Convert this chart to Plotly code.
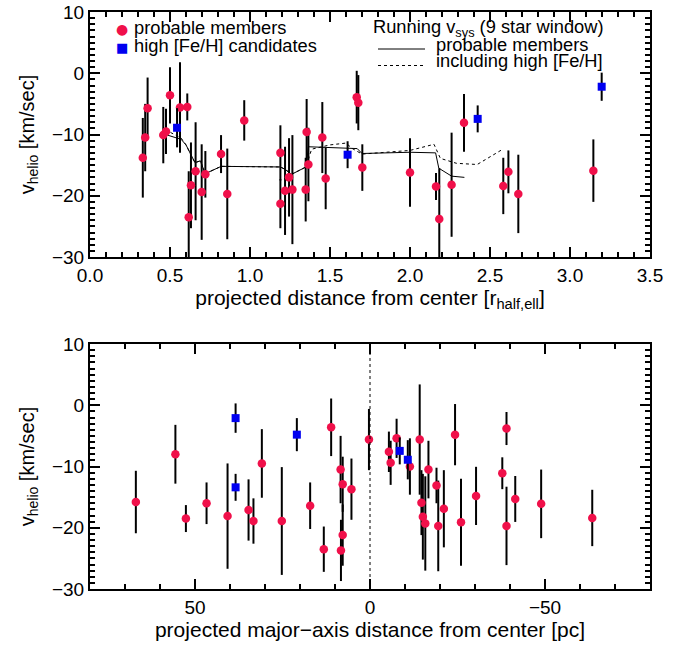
import plotly.graph_objects as go

# ---------------- data: top panel (projected distance, r_half,ell) ----------------
mem_r = [0.33, 0.345, 0.36, 0.458, 0.475, 0.50, 0.5625, 0.608, 0.617, 0.631, 0.66, 0.698,
         0.721, 0.819, 0.858, 0.964, 1.19, 1.19, 1.219, 1.244, 1.265, 1.348, 1.354, 1.365,
         1.452, 1.473, 1.667, 1.677, 1.702, 2.0, 2.1625, 2.183, 2.26, 2.3375, 2.583, 2.615,
         2.677, 3.146]
mem_v = [-13.8, -10.5, -5.7, -10.1, -9.5, -3.6, -5.6, -5.5, -23.5, -18.3, -16.0, -19.4,
         -16.5, -13.2, -19.7, -7.7, -13.0, -21.3, -19.2, -17.0, -19.0, -19.0, -9.6, -14.9,
         -10.5, -17.2, -3.9, -4.8, -15.4, -16.2, -18.5, -23.8, -18.2, -8.1, -18.4, -16.1,
         -19.7, -15.9]
mem_e = [6.5, 5.5, 5.0, 4.6, 3.7, 4.6, 7.4, 2.2, 7.5, 7.0, 8.0, 7.8,
         3.8, 3.1, 7.4, 3.3, 4.5, 4.0, 7.2, 6.4, 8.9, 5.2, 5.4, 6.0,
         5.8, 5.0, 4.3, 4.5, 3.8, 5.6, 2.2, 8.3, 8.5, 4.7, 4.6, 3.5,
         6.4, 5.1]

hi_r = [0.544, 1.61, 2.423, 3.198]
hi_v = [-8.9, -13.3, -7.45, -2.2]
hi_e = [3.2, 2.2, 2.2, 2.3]

run_mem_r = [0.46, 0.57, 0.60, 0.656, 0.69, 0.72, 0.82, 1.19, 1.22, 1.26, 1.35, 1.365,
             1.67, 1.70, 2.00, 2.16, 2.18, 2.26, 2.34]
run_mem_v = [-9.9, -10.8, -11.7, -14.6, -14.3, -16.4, -15.2, -15.3, -15.7, -16.5, -15.3, -12.0,
             -12.3, -13.1, -12.9, -13.0, -15.5, -16.8, -17.0]
run_all_r = [0.47, 0.57, 0.60, 0.656, 0.69, 0.72, 0.82, 1.19, 1.22, 1.26, 1.35, 1.385,
             1.50, 1.60, 1.64, 1.70, 2.00, 2.15, 2.19, 2.29, 2.42, 2.58]
run_all_v = [-9.2, -10.6, -11.7, -14.6, -14.3, -16.4, -15.2, -15.3, -15.7, -16.5, -15.3, -12.4,
             -11.7, -11.4, -12.3, -13.2, -12.6, -11.6, -13.9, -14.7, -14.9, -12.4]

# ---------------- data: bottom panel (major-axis distance, pc) ----------------
mem_d = [66.9, 55.6, 52.6, 46.7, 40.7, 34.7, 33.3, 30.9, 25.2, 17.1, 13.2, 11.1, 8.4, 7.8,
         7.8, 8.3, 5.3, 0.3, -5.4, -5.9, -7.6, -11.4, -14.2, -16.7, -14.7, -15.1, -15.8,
         -19.0, -19.5, -21.1, -24.3, -26.0, -30.3, -37.8, -39.0, -39.0, -41.5, -48.9, -63.5]
mem_vb = [-15.8, -8.0, -18.5, -16.0, -18.1, -17.1, -18.9, -9.5, -18.9, -16.4, -23.5, -3.6, -10.5, -12.9,
          -21.2, -23.7, -13.7, -5.6, -7.6, -9.4, -5.4, -10.0, -5.6, -10.5, -15.9, -18.2, -19.3,
          -13.1, -19.7, -16.9, -4.8, -19.1, -14.8, -11.1, -3.8, -19.7, -15.3, -16.1, -18.4]
mem_eb = [5.1, 4.8, 2.2, 3.4, 8.6, 5.0, 3.7, 5.6, 8.8, 3.8, 3.7, 4.7, 5.5, 4.5,
          5.0, 5.0, 5.0, 5.0, 3.3, 3.6, 3.2, 4.6, 9.0, 4.7, 5.3, 7.0, 7.7,
          2.9, 7.4, 6.3, 5.0, 7.1, 4.75, 2.6, 2.7, 6.4, 3.75, 5.6, 4.6]

hi_d = [38.4, 38.4, 20.9, -8.5, -10.8]
hi_vb = [-2.1, -13.4, -4.8, -7.45, -8.9]
hi_eb = [2.4, 2.2, 2.7, 2.2, 3.2]

legend_markers = ["probable members", "high [Fe/H] candidates"]
legend_running_title = "Running v<sub>sys</sub> (9 star window)"
legend_running = ["probable members", "including high [Fe/H]"]

RED = "#F0104A"
BLUE = "#0000F0"
FONT = "Liberation Sans"

W, H = 683, 648
ML, MR, MT, MB = 90, 33, 12, 59
PW, PH = W - ML - MR, H - MT - MB


def px(x):
    return (x - ML) / PW


def py(y):
    return (H - MB - y) / PH


fig = go.Figure()


def err(e):
    return dict(type="data", array=e, visible=True, color="black", thickness=2, width=0)


# top panel
fig.add_trace(go.Scatter(x=run_all_r, y=run_all_v, mode="lines", xaxis="x", yaxis="y",
                         line=dict(color="black", width=1, dash="dot"), showlegend=False))
fig.add_trace(go.Scatter(x=run_mem_r, y=run_mem_v, mode="lines", xaxis="x", yaxis="y",
                         line=dict(color="black", width=1), showlegend=False))
fig.add_trace(go.Scatter(x=mem_r, y=mem_v, mode="markers", xaxis="x", yaxis="y",
                         marker=dict(color=RED, size=8.5, symbol="circle"),
                         error_y=err(mem_e), showlegend=False))
fig.add_trace(go.Scatter(x=hi_r, y=hi_v, mode="markers", xaxis="x", yaxis="y",
                         marker=dict(color=BLUE, size=8, symbol="square"),
                         error_y=err(hi_e), showlegend=False))

# bottom panel
fig.add_trace(go.Scatter(x=mem_d, y=mem_vb, mode="markers", xaxis="x2", yaxis="y2",
                         marker=dict(color=RED, size=8.5, symbol="circle"),
                         error_y=err(mem_eb), showlegend=False))
fig.add_trace(go.Scatter(x=hi_d, y=hi_vb, mode="markers", xaxis="x2", yaxis="y2",
                         marker=dict(color=BLUE, size=8, symbol="square"),
                         error_y=err(hi_eb), showlegend=False))

axis_common = dict(
    showline=True, linecolor="black", linewidth=2, mirror="ticks",
    ticks="inside", ticklen=10, tickwidth=1.5, tickcolor="black",
    showgrid=False, zeroline=False,
    tickfont=dict(family=FONT, size=19, color="black"),
)

LF = 18.3  # legend font size
annotations = [
    # marker legend (top-left)
    dict(x=px(122), y=py(29.5), text="\u25CF", font=dict(size=14, color=RED, family="DejaVu Sans")),
    dict(x=px(122), y=py(47.5), text="\u25A0", font=dict(size=13, color=BLUE, family="DejaVu Sans")),
    dict(x=px(132), y=py(28), text=legend_markers[0], xanchor="left", font=dict(size=LF)),
    dict(x=px(132), y=py(46), text=legend_markers[1], xanchor="left", font=dict(size=LF)),
    # running-vsys legend (top-right)
    dict(x=px(371), y=py(28), text=legend_running_title, xanchor="left", font=dict(size=LF)),
    dict(x=px(434), y=py(44.5), text=legend_running[0], xanchor="left", font=dict(size=LF)),
    dict(x=px(434), y=py(61), text=legend_running[1], xanchor="left", font=dict(size=LF)),
]
for a in annotations:
    a.update(xref="paper", yref="paper", showarrow=False, yanchor="middle")
    a.setdefault("xanchor", "center")
    a["font"].setdefault("family", FONT)
    a["font"].setdefault("color", "black")

shapes = [
    dict(type="line", xref="x2", yref="y2 domain", x0=0, x1=0, y0=0, y1=1,
         line=dict(color="black", width=1, dash="dot")),
    # legend keys for the running-vsys lines
    dict(type="line", xref="paper", yref="paper", x0=px(378), x1=px(425), y0=py(49), y1=py(49),
         line=dict(color="black", width=1)),
    dict(type="line", xref="paper", yref="paper", x0=px(378), x1=px(424), y0=py(65.5), y1=py(65.5),
         line=dict(color="black", width=1, dash="dot")),
]

fig.update_layout(
    width=W, height=H,
    margin=dict(l=ML, r=MR, t=MT, b=MB, autoexpand=False),
    plot_bgcolor="white", paper_bgcolor="white",
    font=dict(family=FONT, color="black"),
    showlegend=False,
    xaxis=dict(domain=[0, 1], range=[0, 3.5], dtick=0.5, tick0=0, tickformat=".1f",
               anchor="y",
               minor=dict(dtick=0.1, ticklen=5, ticks="inside", tickcolor="black"),
               title=dict(text="projected distance from center [r<sub>half,ell</sub>]",
                          font=dict(size=21), standoff=4),
               **axis_common),
    yaxis=dict(domain=[py(257), 1.0], range=[-30, 10], dtick=10, anchor="x",
               minor=dict(dtick=1, ticklen=5, ticks="inside", tickcolor="black"),
               title=dict(text="v<sub>helio</sub> [km/sec]", font=dict(size=20), standoff=12),
               **axis_common),
    xaxis2=dict(domain=[0, 1], range=[80, -80], dtick=50, tick0=0, anchor="y2",
                minor=dict(dtick=10, ticklen=5, ticks="inside", tickcolor="black"),
                title=dict(text="projected major\u2212axis distance from center [pc]",
                           font=dict(size=21), standoff=4),
                **axis_common),
    yaxis2=dict(domain=[0, py(344)], range=[-30, 10], dtick=10, anchor="x2",
                minor=dict(dtick=1, ticklen=5, ticks="inside", tickcolor="black"),
                title=dict(text="v<sub>helio</sub> [km/sec]", font=dict(size=20), standoff=12),
                **axis_common),
    annotations=annotations,
    shapes=shapes,
)

fig.write_html("out.html")
